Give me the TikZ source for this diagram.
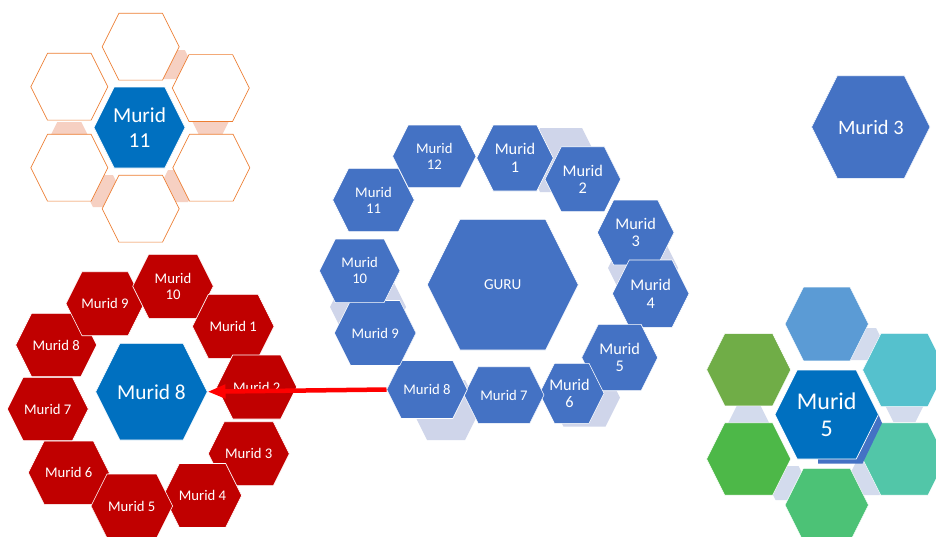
\documentclass[tikz,border=0pt]{standalone}
\usepackage{fontspec}
\setmainfont{Carlito}
\usetikzlibrary{arrows.meta}
\definecolor{hexblue}{HTML}{4472C4}
\definecolor{darkblue}{HTML}{0070C0}
\definecolor{shadowblue}{HTML}{CFD5EA}
\definecolor{lightconn}{HTML}{D3DBED}
\definecolor{hexred}{HTML}{C00000}
\definecolor{hexorange}{HTML}{ED7D31}
\definecolor{pinkconn}{HTML}{F6D0C2}
\definecolor{gTop}{HTML}{5B9BD5}
\definecolor{gUR}{HTML}{55C1CD}
\definecolor{gLR}{HTML}{52C6A8}
\definecolor{gBot}{HTML}{4CC276}
\definecolor{gLL}{HTML}{4DB848}
\definecolor{gUL}{HTML}{70AD47}
\newcommand{\hx}[5][]{\path[#1] ({#2-#4},{#3}) -- ({#2-#4+0.5*#5},{#3-#5}) -- ({#2+#4-0.5*#5},{#3-#5}) -- ({#2+#4},{#3}) -- ({#2+#4-0.5*#5},{#3+#5}) -- ({#2-#4+0.5*#5},{#3+#5}) -- cycle;}
\tikzset{
  bluehex/.style={fill=hexblue, draw=white, line width=0.6pt},
  dbhex/.style={fill=darkblue, draw=white, line width=0.6pt},
  redhex/.style={fill=hexred, draw=white, line width=0.6pt},
  shadowhex/.style={fill=shadowblue},
  pinkhex/.style={fill=pinkconn},
  conhex/.style={fill=lightconn},
  orhex/.style={fill=white, draw=hexorange, line width=0.7pt},
  lbl/.style={text=white, align=center, inner sep=0pt},
  fA/.style={font=\fontsize{16.3}{17.6}\selectfont},
  fB/.style={font=\fontsize{14.7}{15.8}\selectfont},
  fC/.style={font=\fontsize{21.3}{25.7}\selectfont},
  fD/.style={font=\fontsize{24}{27}\selectfont},
  fE/.style={font=\fontsize{20.4}{24}\selectfont},
  fG/.style={font=\fontsize{15.2}{18}\selectfont},
  redarrow/.style={draw={rgb,255:red,255;green,0;blue,0}, line width=4.5pt, -{Triangle[length=18pt,width=13pt]}}
}
\begin{document}
\begin{tikzpicture}[x=1pt,y=-1pt]
\path[use as bounding box] (0,0) rectangle (936,536);
\clip (0,0) rectangle (936,536);
\fill[white] (0,0) rectangle (936,536);

% ---------- top-left cluster ----------
\hx[pinkhex]{172}{64.5}{20}{14.5}
\hx[pinkhex]{210.5}{118}{20}{16}
\hx[pinkhex]{178}{186}{18}{16}
\hx[pinkhex]{103}{191}{18}{16}
\hx[pinkhex]{69.3}{138}{20}{16}
\hx[orhex]{140.7}{46.7}{38.5}{33.4}
\hx[orhex]{69.3}{86.7}{38.5}{33.4}
\hx[orhex]{210.8}{88}{38.5}{33.4}
\hx[orhex]{69.3}{167.7}{38.5}{33.4}
\hx[orhex]{211.3}{167.7}{38.5}{33.4}
\hx[orhex]{140.7}{208.7}{38.5}{33.4}
\hx[dbhex]{139.5}{127.5}{45.5}{40.5}
\node[lbl,fC] (t11) at (139.5,127.5) {Murid\\11};

% ---------- top-right ----------
\hx[bluehex]{870.8}{127}{59.2}{51.3}
\node[lbl,fE] (tr3) at (870.8,127) {Murid 3};

% ---------- center cluster ----------
\hx[shadowhex]{561}{160}{37}{32}
\hx[shadowhex]{368}{307}{38}{30}
\hx[shadowhex]{643}{268}{35}{30}
\hx[shadowhex]{446}{410}{34}{30}
\hx[shadowhex]{584.5}{397.7}{35.5}{29}
\hx[bluehex]{502.8}{284.7}{75.5}{65.3}
\node[lbl,fG] (guru) at (502.8,284.7) {GURU};
\hx[bluehex]{515}{158}{38.3}{33}
\node[lbl,fA] (c1) at (515,158) {Murid\\1};
\hx[bluehex]{582.8}{179.2}{37.8}{32.5}
\node[lbl,fA] (c2) at (582.8,179.2) {Murid\\2};
\hx[bluehex]{635.7}{232.5}{38.3}{32.5}
\node[lbl,fA] (c3) at (635.7,232.5) {Murid\\3};
\hx[bluehex]{650.7}{293.7}{38.3}{33.7}
\node[lbl,fA] (c4) at (650.7,293.7) {Murid\\4};
\hx[bluehex]{619.7}{357.5}{38}{33.2}
\node[lbl,fA] (c5) at (619.7,357.5) {Murid\\5};
\hx[bluehex]{571.7}{393.3}{32.3}{30}
\node[lbl,fA] (c6) at (569.5,393.3) {Murid\\6};
\hx[bluehex]{504}{395}{40}{28.3}
\node[lbl,fB] (c7) at (504,395) {Murid 7};
\hx[bluehex]{427}{389.5}{40.3}{29}
\node[lbl,fB,minimum width=80.6pt] (c8) at (427,389.5) {Murid 8};
\hx[bluehex]{375.2}{333}{40.8}{32.5}
\node[lbl,fB] (c9) at (375.2,333) {Murid 9};
\hx[bluehex]{359.7}{270.8}{40.3}{31.8}
\node[lbl,fB] (c10) at (359.7,270.8) {Murid\\10};
\hx[bluehex]{373.5}{200}{40.8}{31.7}
\node[lbl,fB] (c11) at (373.5,200) {Murid\\11};
\hx[bluehex]{434.3}{156.3}{41.7}{31.3}
\node[lbl,fB] (c12) at (434.3,156.3) {Murid\\12};

% ---------- red cluster ----------
\hx[redhex]{68.8}{472.7}{40.5}{31.7}
\node[lbl,fB] (r6) at (68.8,472.7) {Murid 6};
\hx[redhex]{47.8}{409}{40.5}{31.7}
\node[lbl,fB] (r7) at (47.8,409) {Murid 7};
\hx[redhex]{56.2}{345}{40.5}{31.7}
\node[lbl,fB] (r8) at (56.2,345) {Murid 8};
\hx[redhex]{105}{303.7}{39}{32}
\node[lbl,fB] (r9) at (105,303.7) {Murid 9};
\hx[redhex]{173}{286.3}{40.3}{32}
\node[lbl,fB] (r10) at (173,286.3) {Murid\\10};
\hx[redhex]{233.2}{326.3}{40.8}{32}
\node[lbl,fB] (r1) at (233.2,326.3) {Murid 1};
\hx[redhex]{256.7}{387}{40}{32}
\node[lbl,fB] (r2) at (256.7,387) {Murid 2};
\hx[redhex]{248.8}{453.7}{40.5}{32}
\node[lbl,fB] (r3) at (248.8,453.7) {Murid 3};
\hx[redhex]{202.5}{495.5}{39.2}{32}
\node[lbl,fB] (r4) at (202.5,495.5) {Murid 4};
\hx[redhex]{131.8}{506}{40.8}{32}
\node[lbl,fB] (r5) at (131.8,506) {Murid 5};
\hx[dbhex]{151.5}{391.7}{55.8}{48.3}
\node[lbl,fC,minimum width=111.6pt] (b8) at (151.5,391.7) {Murid 8};

% ---------- bottom-right cluster ----------
\hx[conhex]{862}{344}{22}{16}
\hx[conhex]{904.4}{402}{21}{20}
\hx[conhex]{868}{478}{20}{17}
\hx[conhex]{787}{483}{20}{17}
\hx[conhex]{748.7}{424}{21}{18}
\hx[fill=gTop, draw=white, line width=0.5pt]{826.7}{324}{41.7}{36.8}
\hx[fill=gUR, draw=white, line width=0.5pt]{904.4}{370}{41.7}{36.7}
\hx[fill=gLR, draw=white, line width=0.5pt]{904.4}{459}{41.7}{36.2}
\hx[fill=gBot, draw=white, line width=0.5pt]{826.7}{505}{41.7}{36.7}
\hx[fill=gLL, draw=white, line width=0.5pt]{748.7}{459}{42}{36.2}
\hx[fill=gUL, draw=white, line width=0.5pt]{748.7}{369.7}{42}{36.2}
\fill[hexblue] (878.3,414.5) -- (882,423) -- (862.5,463.5) -- (818,463.5) -- (818,459) -- (856.6,459) -- cycle;
\hx[dbhex]{826.7}{414.5}{51.7}{44.5}
\node[lbl,fD] (br5) at (826.7,414.5) {Murid\\5};

% ---------- arrow ----------
\draw[redarrow] (c8.west) -- (b8.east);
\end{tikzpicture}
\end{document}
